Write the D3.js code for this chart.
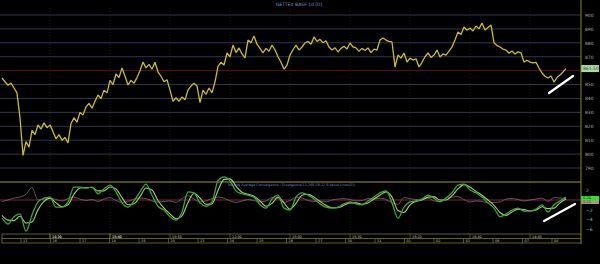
<!DOCTYPE html>
<html>
<head>
<meta charset="utf-8">
<script src="https://cdn.jsdelivr.net/npm/d3@7"></script>
<style>
  html, body { margin: 0; padding: 0; background: #000; overflow: hidden; }
  text { font-family: "DejaVu Sans", sans-serif; }
</style>
</head>
<body>
<script>
// price per bar
var prices = [
  854.7, 852, 849.5, 851, 847.5, 844, 826, 799, 809, 805,
  817, 814, 821, 818, 822.5, 819, 821, 816, 811, 814,
  810, 812, 808, 822, 826, 823, 830, 828, 834, 836.5,
  833, 838, 842.5, 840, 846, 844, 853, 850, 857.6, 855,
  862, 856, 849.7, 853, 851, 855, 860, 866.2, 862, 864.5,
  861, 866, 859, 856, 852, 853.5, 846, 838, 840.5, 838,
  841, 839, 846, 849, 851, 849, 837, 846, 843, 847.5,
  844, 852, 863, 866, 864, 872.7, 870, 878.4, 873, 876.3,
  872, 869.1, 882, 880, 884.9, 879, 876, 872.7, 876, 874,
  878.4, 875, 870, 866, 861, 864, 871.2, 875, 878.4, 874.8,
  877, 879.9, 881, 879, 884.2, 881, 882.5, 880, 881.5, 877,
  874.8, 876.5, 873.4, 876, 877.5, 875.5, 879.9, 877, 876.3, 874,
  876, 874.5, 876.3, 873, 875.5, 874.8, 882, 883.5, 882, 881,
  880.6, 862.6, 871.2, 869, 872.7, 866.2, 869, 867.6, 868.5, 862.6,
  866, 870, 872.7, 869.5, 871.2, 874.8, 869.8, 872, 871.2, 874,
  877, 882, 887.8, 886, 891.4, 889, 890.7, 888.5, 892.1, 890,
  894.2, 889.2, 891, 892.8, 880, 878, 877, 875.5, 874.8, 872.5,
  874.1, 872, 873.5, 872.7, 866.2, 867.5, 866.2, 865.5, 866, 861.9,
  858.3, 856, 854.7, 856.1, 851.8, 855, 856.8, 859, 861.5
];

// MACD panel, one value every second bar
var macd = [
  -3.8, -5.0, -3.5, -2.9, -6.5, -3.1, -0.4, 0.4, 0.6, -1.5,
  -1.5, -0.4, 2.7, 2.7, 2.5, 2.7, 1.3, 2.3, 3.1, 1.7,
  -0.6, -1.5, -0.2, 1.7, 3.3, 1.0, -1.3, -2.1, -3.5, -4.2,
  -2.5, 1.7, 1.5, -0.6, -1.3, -0.4, 4.0, 4.8, 4.0, 1.9,
  1.3, 1.0, 0.6, -1.0, -1.7, 0.2, 1.0, -1.7, -2.1, 0.6,
  1.5, 1.0, 0.2, -0.8, -1.5, -1.7, -1.5, -0.8, -0.4, -0.8,
  -1.0, -0.2, 0.6, 1.5, 1.9, -0.6, -3.8, -1.5, -0.4, -0.2,
  0.2, 1.0, 0.4, -0.4, 0.4, 1.5, 3.1, 3.3, 2.1, 1.5,
  0.6, -0.6, -1.7, -3.5, -2.9, -2.1, -1.7, -2.3, -2.3, -1.9,
  -1.0, -2.5, -1.0, -0.2, 0.6
];
var signal = [
  -3.2, -4.2, -4.3, -3.4, -4.8, -4.6, -2.0, -0.3, 0.4, -0.6,
  -1.4, -1.0, 1.2, 2.5, 2.6, 2.6, 1.9, 1.9, 2.7, 2.3,
  0.5, -1.0, -0.8, 0.7, 2.5, 2.1, -0.1, -1.7, -2.9, -3.9,
  -3.3, -0.5, 1.4, 0.4, -0.9, -0.8, 2.0, 4.3, 4.4, 2.9,
  1.6, 1.2, 0.8, -0.2, -1.3, -0.7, 0.6, -0.6, -1.9, -0.7,
  1.0, 1.2, 0.6, -0.3, -1.1, -1.6, -1.6, -1.1, -0.6, -0.6,
  -0.9, -0.6, 0.2, 1.0, 1.7, 0.6, -2.2, -2.6, -1.0, -0.3,
  0.0, 0.6, 0.7, 0.0, 0.0, 0.9, 2.3, 3.2, 2.7, 1.8,
  1.0, 0.0, -1.1, -2.6, -3.2, -2.5, -1.9, -2.0, -2.3, -2.1,
  -1.4, -1.8, -1.7, -0.6, 0.2
];
var hist = [
  -0.3, 0.0, 0.4, 0.6, 1.2, 2.6, 0.0, 0.2, 0.4, 0.1,
  -0.2, 0.3, 0.6, 0.2, -0.1, 0.1, -0.3, 0.2, 0.5, -0.1,
  -0.5, -0.3, 0.2, 0.4, 0.3, -0.2, -0.4, -0.3, -0.2, -0.5,
  0.3, 0.9, 0.2, -0.4, -0.2, 0.3, 0.6, 0.4, -0.2, -0.5,
  -0.2, 0.1, -0.1, -0.4, -0.2, 0.5, 0.3, -0.5, -0.1, 0.6,
  0.4, -0.1, -0.3, -0.2, -0.4, 0.0, 0.2, 0.3, 0.1, -0.2,
  -0.1, 0.3, 0.2, 0.4, 0.1, -0.6, -0.9, 0.5, 0.3, 0.1,
  0.2, 0.4, -0.2, -0.3, 0.4, 0.6, 0.7, 0.1, -0.4, -0.2,
  -0.3, -0.6, -0.5, -0.4, 0.2, 0.3, 0.1, -0.2, 0.0, 0.2,
  0.4, -0.3, 0.5, 0.4, 0.3
];

var priceTicks = [900, 890, 880, 870, 860, 850, 840, 830, 820, 810, 800, 790];
var macdTicks = [2, -2, -4, -6];
var dayLabels = ["13", "16", "17", "18", "19", "20", "23", "24", "25", "26",
                 "27", "30", "31", "01", "02", "03", "06", "07", "08"];
var timeLabels = ["14:30", "14:30", "15:40", "15:50", "12:00", "15:00",
                  "15:30", "15:20", "16:40", "14:40", "15:40"];
var lastPrice = 861.5;
var lastMacd = "0.24";
var lastSignal = "0.15";

var svg = d3.select("body").append("svg")
    .attr("width", 600)
    .attr("height", 264)
    .style("background", "#000");

var axisX = 581;
var x = d3.scaleLinear().domain([0, prices.length - 1]).range([2, 566]);
var y = d3.scaleLinear().domain([790, 900]).range([168, 15]);
var ym = d3.scaleLinear().domain([-6, 2]).range([228.8, 190.4]);
var xDay = d3.scalePoint().domain(dayLabels).range([22, 553]);
var xTime = d3.scalePoint().domain(timeLabels).range([51, 531]);

// title
svg.append("text")
    .text("GETTEX BASF 1d  [D]")
    .attr("x", 276).attr("y", 6)
    .style("font-size", "4.5px")
    .style("fill", "#7a9ad0");

// faint vertical grid
svg.selectAll(".vgrid")
    .data(timeLabels)
    .enter()
    .append("line")
    .attr("x1", function(d) { return xTime(d) - 1; })
    .attr("x2", function(d) { return xTime(d) - 1; })
    .attr("y1", 8).attr("y2", 234)
    .style("stroke", "#222222")
    .style("stroke-width", 0.6)
    .style("stroke-dasharray", "1,2");

// horizontal grid of the price panel
svg.selectAll(".hgrid")
    .data(priceTicks)
    .enter()
    .append("line")
    .attr("x1", 0)
    .attr("x2", axisX)
    .attr("y1", function(d) { return y(d); })
    .attr("y2", function(d) { return y(d); })
    .style("stroke", function(d) { return d == 860 ? "#5a1616" : "#34344e"; })
    .style("stroke-width", 1);

// price line
var priceLine = d3.line()
    .x(function(d, i) { return x(i); })
    .y(function(d) { return y(d); });

svg.append("path")
    .datum(prices)
    .attr("d", priceLine)
    .style("fill", "none")
    .style("stroke", "#c8be2a")
    .style("stroke-width", 1.3)
    .style("stroke-linejoin", "bevel");

// right axis of the price panel (860 sits under the last price marker)
var priceAxis = svg.append("g")
    .attr("transform", "translate(" + axisX + ",0)")
    .call(d3.axisRight(y)
      .tickValues(priceTicks.filter(function(d) { return d != 860; }))
      .tickSize(0).tickPadding(4));
priceAxis.select(".domain").remove();
priceAxis.selectAll("text")
    .style("font-size", "4.5px")
    .style("font-family", "DejaVu Sans")
    .style("fill", "#b0b0b0");

// last price marker
svg.append("rect")
    .attr("x", axisX).attr("y", y(lastPrice) - 3.5)
    .attr("width", 18).attr("height", 7)
    .style("fill", "#a8dca0");
svg.append("text")
    .text(lastPrice.toFixed(2))
    .attr("x", axisX + 2).attr("y", y(lastPrice) + 1.6)
    .style("font-size", "4.5px")
    .style("fill", "#2a4a2a");

// MACD panel: top line and zero line
svg.append("line")
    .attr("x1", 0).attr("x2", axisX)
    .attr("y1", 182).attr("y2", 182)
    .style("stroke", "#9a9a2a")
    .style("stroke-width", 1);
svg.append("line")
    .attr("x1", 0).attr("x2", axisX)
    .attr("y1", ym(0)).attr("y2", ym(0))
    .style("stroke", "#903448")
    .style("stroke-width", 0.8);

var macdLine = d3.line()
    .x(function(d, i) { return x(i * 2); })
    .y(function(d) { return ym(d); })
    .curve(d3.curveMonotoneX);

svg.append("path")
    .datum(hist)
    .attr("d", macdLine)
    .style("fill", "none")
    .style("stroke", "#8a6078")
    .style("stroke-width", 0.8);

svg.append("path")
    .datum(signal)
    .attr("d", macdLine)
    .style("fill", "none")
    .style("stroke", "#a8d070")
    .style("stroke-width", 1.1);

svg.append("path")
    .datum(macd)
    .attr("d", macdLine)
    .style("fill", "none")
    .style("stroke", "#38a834")
    .style("stroke-width", 1.3);

svg.append("text")
    .text("Moving Average Convergence / Divergence(12,26E,26,12,9,Value Lines(0))")
    .attr("x", 228).attr("y", 186)
    .style("font-size", "3.4px")
    .style("fill", "#5a8ad6");

// MACD axis
var macdAxis = svg.append("g")
    .attr("transform", "translate(" + axisX + ",0)")
    .call(d3.axisRight(ym).tickValues(macdTicks).tickSize(0).tickPadding(5));
macdAxis.select(".domain").remove();
macdAxis.selectAll("text")
    .style("font-size", "4.5px")
    .style("font-family", "DejaVu Sans")
    .style("fill", "#b0b0b0");

svg.append("rect")
    .attr("x", axisX).attr("y", ym(0) - 4)
    .attr("width", 18).attr("height", 4)
    .style("fill", "#2ee22e");
svg.append("text")
    .text(lastMacd)
    .attr("x", axisX + 2).attr("y", ym(0) - 0.6)
    .style("font-size", "3.6px")
    .style("fill", "#104010");
svg.append("rect")
    .attr("x", axisX).attr("y", ym(0))
    .attr("width", 18).attr("height", 4)
    .style("fill", "#a89a78");
svg.append("text")
    .text(lastSignal)
    .attr("x", axisX + 2).attr("y", ym(0) + 3.4)
    .style("font-size", "3.6px")
    .style("fill", "#3a3020");

// trend marks drawn on the chart
svg.append("line")
    .attr("x1", 549).attr("y1", 93).attr("x2", 573).attr("y2", 76)
    .style("stroke", "#ffffff")
    .style("stroke-width", 2.2)
    .style("stroke-linecap", "round");
svg.append("line")
    .attr("x1", 544).attr("y1", 221).attr("x2", 575).attr("y2", 204)
    .style("stroke", "#ffffff")
    .style("stroke-width", 2.2)
    .style("stroke-linecap", "round");

// right axis line
svg.append("line")
    .attr("x1", axisX).attr("x2", axisX)
    .attr("y1", 0).attr("y2", 244)
    .style("stroke", "#8a8a22")
    .style("stroke-width", 1);

// time axis boxes
[234, 238.5, 243].forEach(function(yy) {
  svg.append("line")
      .attr("x1", 2).attr("x2", axisX)
      .attr("y1", yy).attr("y2", yy)
      .style("stroke", "#8a8a22")
      .style("stroke-width", 0.7);
});
svg.append("line")
    .attr("x1", 2).attr("x2", 2)
    .attr("y1", 234).attr("y2", 243)
    .style("stroke", "#8a8a22")
    .style("stroke-width", 0.7);

var timeG = svg.selectAll(".tlab")
    .data(timeLabels)
    .enter()
    .append("g");
timeG.append("line")
    .attr("x1", function(d) { return xTime(d) - 1; })
    .attr("x2", function(d) { return xTime(d) - 1; })
    .attr("y1", 234).attr("y2", 238.5)
    .style("stroke", "#8a8a22")
    .style("stroke-width", 0.6);
timeG.append("text")
    .text(function(d) { return d; })
    .attr("x", function(d) { return xTime(d) + 1; })
    .attr("y", 237.6)
    .style("font-size", "3.4px")
    .style("fill", "#c0c0c0");

var dayG = svg.selectAll(".dlab")
    .data(dayLabels)
    .enter()
    .append("g");
dayG.append("line")
    .attr("x1", function(d) { return xDay(d) - 1; })
    .attr("x2", function(d) { return xDay(d) - 1; })
    .attr("y1", 238.5).attr("y2", 243)
    .style("stroke", "#8a8a22")
    .style("stroke-width", 0.6);
dayG.append("text")
    .text(function(d) { return d; })
    .attr("x", function(d) { return xDay(d) + 1; })
    .attr("y", 242.2)
    .style("font-size", "3.4px")
    .style("fill", "#c0c0c0");
</script>
</body>
</html>
